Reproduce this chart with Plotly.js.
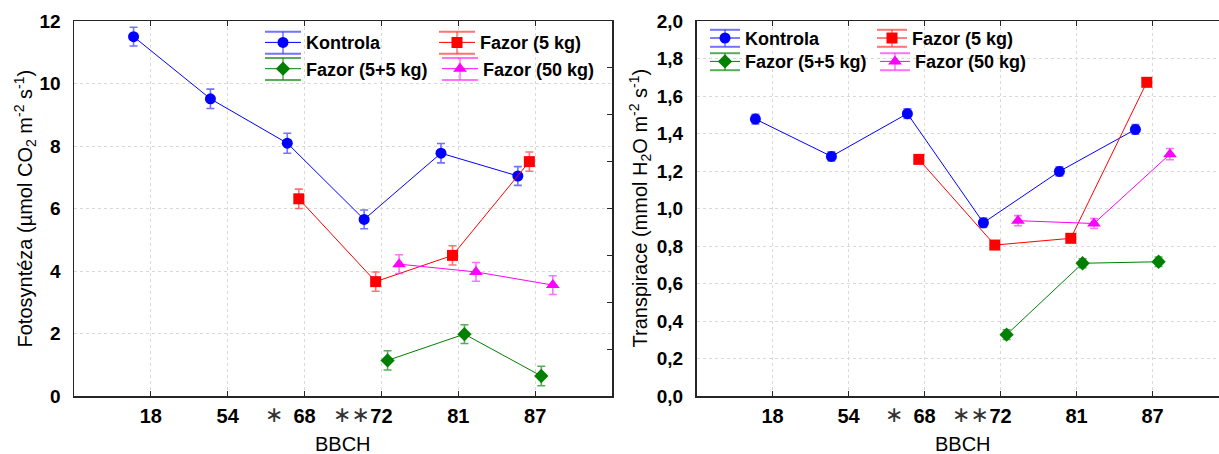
<!DOCTYPE html>
<html><head><meta charset="utf-8">
<script src="https://cdn.plot.ly/plotly-3.0.1.min.js"></script>
<style>html,body{margin:0;padding:0;background:#fff}</style>
</head><body><div id="chart" style="width:1219px;height:454px"></div>
<script>
// ---------- DATA ----------
const categories = ['18', '54', '68', '72', '81', '87'];
const seriesNames = ['Kontrola', 'Fazor (5 kg)', 'Fazor (5+5 kg)', 'Fazor (50 kg)'];

// Fotosyntéza (µmol CO2 m-2 s-1)
const kontrolaPs   = [11.5, 9.51, 8.09, 5.65, 7.77, 7.04];
const kontrolaPsE  = [0.30, 0.31, 0.32, 0.30, 0.31, 0.30];
const fazor5Ps     = [null, null, 6.31, 3.66, 4.50, 7.50];
const fazor5PsE    = [0, 0, 0.31, 0.31, 0.31, 0.31];
const fazor55Ps    = [null, null, null, 1.14, 1.98, 0.64];
const fazor55PsE   = [0, 0, 0, 0.31, 0.30, 0.31];
const fazor50Ps    = [null, null, null, 4.22, 3.97, 3.55];
const fazor50PsE   = [0, 0, 0, 0.30, 0.30, 0.30];

// Transpirace (mmol H2O m-2 s-1)
const kontrolaTr   = [1.477, 1.278, 1.506, 0.924, 1.198, 1.422];
const kontrolaTrE  = [0.026, 0.025, 0.026, 0.025, 0.025, 0.026];
const fazor5Tr     = [null, null, 1.262, 0.805, 0.841, 1.673];
const fazor5TrE    = [0, 0, 0.014, 0.014, 0.014, 0.014];
const fazor55Tr    = [null, null, null, 0.327, 0.708, 0.716];
const fazor55TrE   = [0, 0, 0, 0.026, 0.024, 0.025];
const fazor50Tr    = [null, null, null, 0.935, 0.920, 1.290];
const fazor50TrE   = [0, 0, 0, 0.027, 0.027, 0.030];

// ---------- STYLE ----------
const colors  = ['#0000ff', '#ff0000', '#008000', '#ff00ff'];
const errCols = ['rgba(40,40,255,0.65)', 'rgba(255,40,40,0.65)', 'rgba(0,128,0,0.65)', 'rgba(255,40,255,0.65)'];
const symbols = ['circle', 'square', 'diamond', 'triangle-up'];
const msizes  = [11, 11, 11, 12];
const offsets = [-0.225, -0.075, 0.08, 0.23];
const FONT = 'Arial, "Liberation Sans", sans-serif';

const W = 1219, H = 454, ML = 74, MR = 0, MT = 21, MB = 58;
const PW = W - ML - MR, PH = H - MT - MB;
const px2x = p => (p - ML) / PW;
const px2y = p => (H - MB - p) / PH;

const psSeries = [[kontrolaPs, kontrolaPsE], [fazor5Ps, fazor5PsE], [fazor55Ps, fazor55PsE], [fazor50Ps, fazor50PsE]];
const trSeries = [[kontrolaTr, kontrolaTrE], [fazor5Tr, fazor5TrE], [fazor55Tr, fazor55TrE], [fazor50Tr, fazor50TrE]];

const traces = [];
function addTraces(series, xa, ya, legendBase) {
  series.forEach(([vals, errs], i) => {
    traces.push({
      type: 'scatter', mode: 'lines+markers',
      name: seriesNames[i],
      x: categories.map((c, k) => k + 1 + offsets[i]),
      y: vals,
      xaxis: xa, yaxis: ya,
      legend: 'legend' + (legendBase + i === 1 ? '' : legendBase + i),
      line: {color: colors[i], width: 1},
      marker: {color: colors[i], symbol: symbols[i], size: msizes[i]},
      error_y: {type: 'data', array: errs, visible: true, color: errCols[i], thickness: 1.6, width: 4},
      cliponaxis: false
    });
  });
}
addTraces(psSeries, 'x', 'y', 1);
addTraces(trSeries, 'x2', 'y2', 5);
// invisible helper trace for right-hand tick axis of left chart
traces.push({type: 'scatter', x: [], y: [], xaxis: 'x', yaxis: 'y3', showlegend: false, hoverinfo: 'skip'});

// legends: [iconLeft px, centerY px, iconWidth, capHalf]
const legendPos = [
  [265, 42.7, 36, 11], [439, 42.7, 36, 11], [265, 69, 36, 11], [442, 69, 36, 11],
  [710, 38.3, 30, 8.5], [877, 38.3, 30, 8.5], [710, 61.7, 30, 8.5], [880, 61.7, 30, 8.5]
];
const layout = {
  width: W, height: H,
  margin: {l: ML, r: MR, t: MT, b: MB, pad: 0},
  paper_bgcolor: '#fff', plot_bgcolor: '#fff',
  separators: ', ',
  font: {family: FONT, color: '#000'},
  showlegend: true,
  shapes: [], annotations: []
};
legendPos.forEach(([ix, cy, iw, cap], k) => {
  const key = 'legend' + (k === 0 ? '' : k + 1);
  layout[key] = {
    x: px2x(ix - 5), y: px2y(cy), xanchor: 'left', yanchor: 'middle',
    bgcolor: 'rgba(0,0,0,0)', borderwidth: 0,
    font: {family: FONT, size: 18, weight: 'bold', color: '#000'},
    itemwidth: iw, itemclick: false, itemdoubleclick: false
  };
  const col = errCols[k % 4];
  [cy - cap, cy + cap].forEach(yy => layout.shapes.push({
    type: 'line', xref: 'paper', yref: 'paper', x0: px2x(ix), x1: px2x(ix + iw), y0: px2y(yy), y1: px2y(yy),
    line: {color: col, width: 2}
  }));
  layout.shapes.push({
    type: 'line', xref: 'paper', yref: 'paper', x0: px2x(ix + iw / 2), x1: px2x(ix + iw / 2), y0: px2y(cy - cap), y1: px2y(cy + cap),
    line: {color: col, width: 1.5}
  });
});

const axisLine = '#262626';
function xAxis(domain, range) {
  return {
    domain: domain, range: range, tickvals: categories.map((c, k) => k + 1), ticktext: categories,
    tickfont: {family: FONT, size: 20, weight: 'bold', color: '#000'},
    ticks: 'inside', ticklen: 5, tickcolor: axisLine, tickwidth: 1,
    showline: true, linecolor: axisLine, linewidth: 1.5, mirror: 'ticks',
    showgrid: true, gridcolor: '#d9d9d9', griddash: 'dot', gridwidth: 1,
    zeroline: false, automargin: false, ticklabelstandoff: 1, fixedrange: true
  };
}
function yAxis(anchor, range, dtick, fmt) {
  return {
    anchor: anchor, domain: [0, 1], range: range, dtick: dtick, tick0: 0, tickformat: fmt,
    tickfont: {family: FONT, size: 19, weight: 'bold', color: '#000'},
    ticks: '', showline: true, linecolor: axisLine, linewidth: 1.5, mirror: false,
    showgrid: true, gridcolor: '#d9d9d9', griddash: 'dot', gridwidth: 1,
    zeroline: false, automargin: false, ticklabelstandoff: 8, fixedrange: true
  };
}
layout.xaxis = Object.assign(xAxis([0, px2x(612)], [0, 7]), {anchor: 'y'});
layout.yaxis = yAxis('x', [0, 12], 2, 'd');
layout.yaxis3 = {
  overlaying: 'y', side: 'right', anchor: 'x', range: [0, 12], dtick: 1.5, tick0: 0,
  ticks: 'inside', ticklen: 5, tickcolor: axisLine, showticklabels: false, showgrid: false,
  showline: true, linecolor: axisLine, linewidth: 1.5, zeroline: false, fixedrange: true
};
const rightRange = (W - 696.5) / 76;
layout.xaxis2 = Object.assign(xAxis([px2x(696.5), 1], [0, rightRange]), {anchor: 'y2'});
layout.yaxis2 = yAxis('x2', [0, 2], 0.2, '.1f');

// axis titles and asterisk marks
const titleFont = {family: FONT, size: 20, color: '#000'};
layout.annotations.push(
  {xref: 'paper', yref: 'paper', x: px2x(25), y: 0.5, xanchor: 'center', yanchor: 'middle', textangle: -90, showarrow: false,
   text: 'Fotosyntéza (µmol CO<sub>2</sub> m<sup>-2</sup> s<sup>-1</sup>)', font: titleFont},
  {xref: 'paper', yref: 'paper', x: px2x(640), y: 0.5, xanchor: 'center', yanchor: 'middle', textangle: -90, showarrow: false,
   text: 'Transpirace (mmol H<sub>2</sub>O m<sup>-2</sup> s<sup>-1</sup>)', font: titleFont},
  {xref: 'x', yref: 'paper', x: 3.5, y: px2y(443.5), xanchor: 'center', yanchor: 'middle', showarrow: false, text: 'BBCH', font: titleFont, borderpad: 0},
  {xref: 'x2', yref: 'paper', x: 3.5, y: px2y(443.5), xanchor: 'center', yanchor: 'middle', showarrow: false, text: 'BBCH', font: titleFont, borderpad: 0}
);
['x', 'x2'].forEach(xr => {
  layout.annotations.push(
    {xref: xr, yref: 'paper', x: 3, xshift: -31, y: px2y(414), xanchor: 'center', yanchor: 'middle', showarrow: false,
     text: '∗', font: {family: '"DejaVu Sans", sans-serif', size: 22, color: '#333'}},
    {xref: xr, yref: 'paper', x: 4, xshift: -30, y: px2y(414), xanchor: 'center', yanchor: 'middle', showarrow: false,
     text: '∗∗', font: {family: '"DejaVu Sans", sans-serif', size: 22, color: '#333'}}
  );
});

Plotly.newPlot('chart', traces, layout, {displayModeBar: false, staticPlot: true});
</script></body></html>
